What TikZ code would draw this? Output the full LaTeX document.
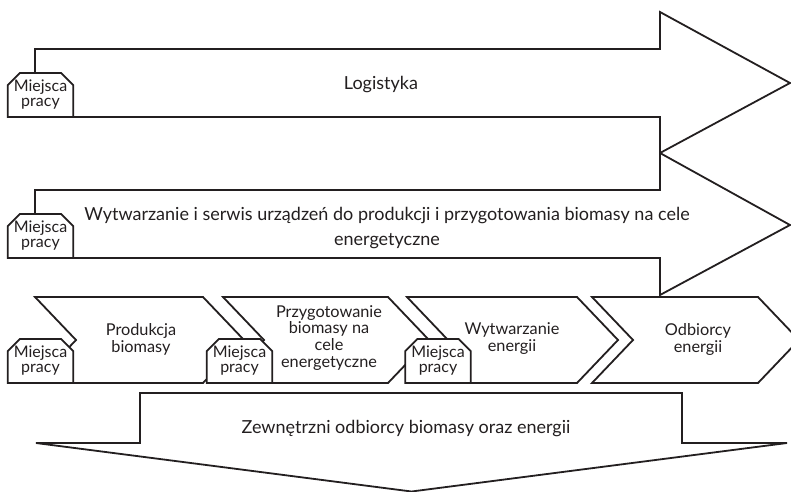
\documentclass[tikz,border=0pt]{standalone}
\usepackage{fontspec}
\setmainfont{Lato}
\usetikzlibrary{shapes.misc}
\definecolor{ink}{RGB}{35,31,32}
% keep stacked label lines at their set baseline distance
\setlength{\lineskiplimit}{-20pt}
\begin{document}
\begin{tikzpicture}[x=1pt,y=-1pt,
  shape line/.style={draw=ink, line width=1.8pt, line join=miter, fill=white},
  label text/.style={text=ink, align=center, inner sep=0pt,
    font=\fontsize{18}{17}\selectfont},
  chain text/.style={label text, font=\fontsize{16.3}{17}\selectfont},
  jobbox/.style={chamfered rectangle,
    chamfered rectangle corners={north west,north east},
    chamfered rectangle xsep=6pt, chamfered rectangle ysep=6pt,
    draw=ink, line width=1.8pt, fill=white, text=ink, align=center,
    inner sep=0pt, minimum width=65pt, minimum height=44pt,
    font=\fontsize{16}{15}\selectfont}]
\useasboundingbox (0,0) rectangle (791,491);
\clip (0,0) rectangle (791,491);

% two long arrows across the top
\draw[shape line] (35,49) -- (660,49) -- (660,12) -- (790,83) -- (660,153)
  -- (660,117) -- (35,117) -- cycle;
\draw[shape line] (35,190) -- (660,190) -- (660,153) -- (790,225) -- (660,295)
  -- (660,258) -- (35,258) -- cycle;
\node[label text, anchor=base] (logi) at (381,89) {Logistyka};
\node[label text, font=\fontsize{18}{25}\selectfont] (serv) at (387,228.5)
  {Wytwarzanie i serwis urządzeń do produkcji i przygotowania biomasy na cele\\energetyczne};

% value chain chevrons
\def\dd{41}
\foreach \l/\r in {35/203, 223/388, 407/577, 592/758}{
  \draw[shape line] (\l,297) -- (\r,297) -- (\r+\dd,340) -- (\r,383)
    -- (\l,383) -- (\l+\dd,340) -- cycle;
}
\node[chain text] (prod) at (141,339) {Produkcja\\biomasy};
\node[chain text, font=\fontsize{16.3}{16.7}\selectfont] (prep) at (329,337.6)
  {Przygotowanie\\biomasy na\\cele\\energetyczne};
\node[chain text] (gen) at (512,339) {Wytwarzanie\\energii};
\node[chain text] (recv) at (698,339) {Odbiorcy\\energii};

% downward arrow at the bottom
\draw[shape line] (140,393) -- (682,393) -- (682,443) -- (787,443) -- (411.5,491.5)
  -- (36,443) -- (140,443) -- cycle;
\node[label text, anchor=base] (ext) at (406,433)
  {Zewnętrzni odbiorcy biomasy oraz energii};

% workplace tags
\node[jobbox] (jobA) at (40.5,95) {Miejsca\\pracy};
\node[jobbox] (jobB) at (40.5,236) {Miejsca\\pracy};
\node[jobbox] (jobC) at (40.5,361) {Miejsca\\pracy};
\node[jobbox] (jobD) at (239.5,361) {Miejsca\\pracy};
\node[jobbox] (jobE) at (438,361) {Miejsca\\pracy};
\end{tikzpicture}
\end{document}
